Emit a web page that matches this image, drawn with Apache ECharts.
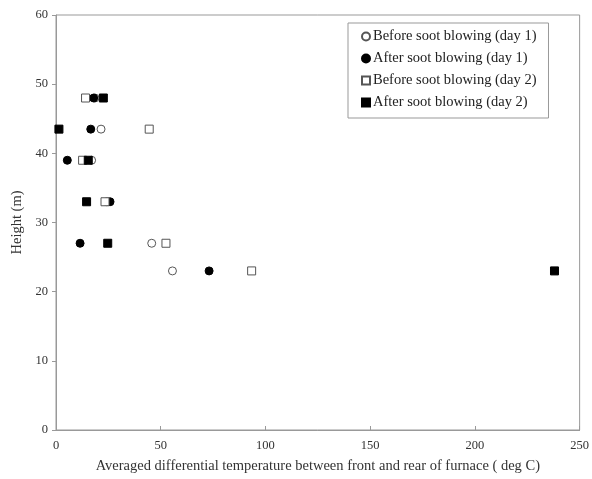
<!DOCTYPE html>
<html><head><meta charset="utf-8">
<script src="https://cdn.jsdelivr.net/npm/echarts@6/dist/echarts.min.js"></script>
<style>html,body{margin:0;padding:0;background:#fff}#c{width:592px;height:479px}</style>
</head><body><div id="c"></div>
<script>
const heights = [48, 43.5, 39, 33, 27, 23];
const beforeDay1 = [18.6, 21.5, 17.0, 24.3, 45.7, 55.6];
const afterDay1  = [18.0, 16.6, 5.4, 25.8, 11.5, 73.1];
const beforeDay2 = [14.1, 44.5, 12.7, 23.4, 52.5, 93.4];
const afterDay2  = [22.6, 1.4, 15.4, 14.6, 24.7, 238];
const seriesNames = ['Before soot blowing (day 1)','After soot blowing (day 1)','Before soot blowing (day 2)','After soot blowing (day 2)'];
const xTicks = [0,50,100,150,200,250];
const yTicks = [0,10,20,30,40,50,60];

function pts(xs){ return xs.map((x,i)=>[x, heights[i]]); }
const font = '"Liberation Serif","Times New Roman",serif';
const chart = echarts.init(document.getElementById('c'));
const mk = (name, data, symbol, filled) => ({
  name, type:'scatter', data: pts(data), symbol, symbolSize: 8,
  itemStyle: filled ? {color:'#000', borderColor:'#000', borderWidth:1, opacity:1}
                    : {color:'#fff', borderColor:'#555', borderWidth:1, opacity:1},
  emphasis:{disabled:true}
});
chart.setOption({
  animation:false,
  grid:{left:56, right:12, top:15, bottom:49, show:true, borderColor:'#999', borderWidth:1},
  xAxis:{type:'value', min:0, max:250, interval:50,
    name:'Averaged differential temperature between front and rear of furnace ( deg C)',
    nameLocation:'middle', nameGap:29,
    nameTextStyle:{fontFamily:font, fontSize:14.5, color:'#333'},
    axisLine:{lineStyle:{color:'#999'}}, axisTick:{inside:true, length:4, lineStyle:{color:'#999'}},
    axisLabel:{fontFamily:font, fontSize:12.5, color:'#333', margin:9,
      formatter:v=>xTicks.includes(v)?String(v):''},
    splitLine:{show:false}},
  yAxis:{type:'value', min:0, max:60, interval:10,
    name:'Height (m)', nameLocation:'middle', nameGap:31,
    nameTextStyle:{fontFamily:font, fontSize:14.5, color:'#333'},
    axisLine:{show:true, lineStyle:{color:'#999'}}, axisTick:{show:true, length:4, lineStyle:{color:'#999'}},
    axisLabel:{fontFamily:font, fontSize:12.5, color:'#333', margin:8,
      formatter:v=>yTicks.includes(v)?String(v):''},
    splitLine:{show:false}},
  legend:{show:true, orient:'vertical', left:348, top:23,
    padding:[6,12,8,13], itemGap:7, itemWidth:8, itemHeight:8,
    borderColor:'#999', borderWidth:1, backgroundColor:'#fff',
    textStyle:{fontFamily:font, fontSize:14.5, color:'#222', padding:[0,0,0,-2]},
    data:seriesNames},
  series:[
    mk(seriesNames[0], beforeDay1, 'circle', false),
    mk(seriesNames[1], afterDay1, 'circle', true),
    mk(seriesNames[2], beforeDay2, 'rect', false),
    mk(seriesNames[3], afterDay2, 'rect', true)
  ]
});
</script></body></html>
